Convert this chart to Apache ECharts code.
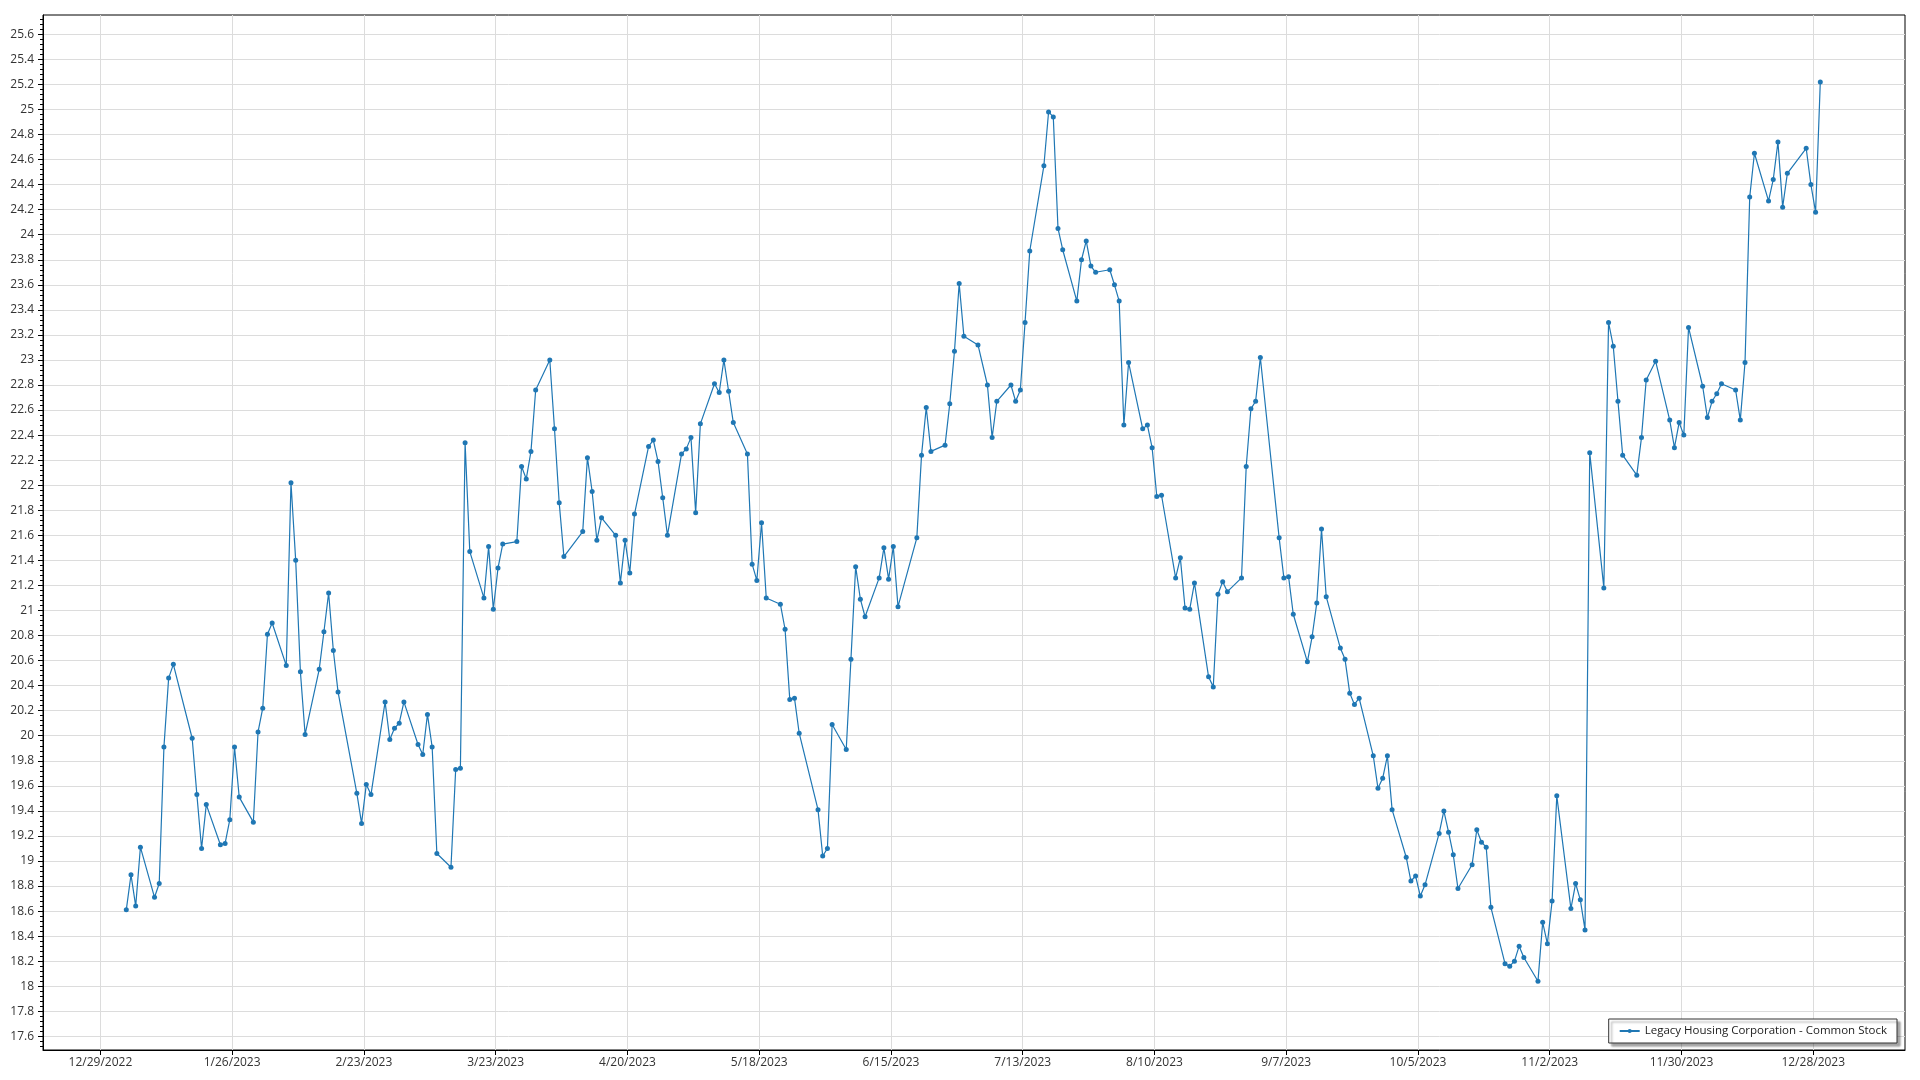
<!DOCTYPE html>
<html>
<head>
<meta charset="utf-8">
<script src="https://cdn.jsdelivr.net/npm/echarts@6/dist/echarts.min.js"></script>
<style>
html,body{margin:0;padding:0;background:#fff;}
#chart{width:1920px;height:1080px;}
</style>
</head>
<body>
<div id="chart"></div>
<script>
// Trading days (day of month) and closing prices, 2023, by month
const janDays = [3,4,5,6,9,10,11,12,13,17,18,19,20,23,24,25,26,27,30,31];
const janClose = [18.61,18.89,18.64,19.11,18.71,18.82,19.91,20.46,20.57,19.98,19.53,19.10,19.45,19.13,19.14,19.33,19.91,19.51,19.31,20.03];
const febDays = [1,2,3,6,7,8,9,10,13,14,15,16,17,21,22,23,24,27,28];
const febClose = [20.22,20.81,20.90,20.56,22.02,21.40,20.51,20.01,20.53,20.83,21.14,20.68,20.35,19.54,19.30,19.61,19.53,20.27,19.97];
const marDays = [1,2,3,6,7,8,9,10,13,14,15,16,17,20,21,22,23,24,27,28,29,30,31];
const marClose = [20.06,20.10,20.27,19.93,19.85,20.17,19.91,19.06,18.95,19.73,19.74,22.34,21.47,21.10,21.51,21.01,21.34,21.53,21.55,22.15,22.05,22.27,22.76];
const aprDays = [3,4,5,6,10,11,12,13,14,17,18,19,20,21,24,25,26,27,28];
const aprClose = [23.00,22.45,21.86,21.43,21.63,22.22,21.95,21.56,21.74,21.60,21.22,21.56,21.30,21.77,22.31,22.36,22.19,21.90,21.60];
const mayDays = [1,2,3,4,5,8,9,10,11,12,15,16,17,18,19,22,23,24,25,26,30,31];
const mayClose = [22.25,22.29,22.38,21.78,22.49,22.81,22.74,23.00,22.75,22.50,22.25,21.37,21.24,21.70,21.10,21.05,20.85,20.29,20.30,20.02,19.41,19.04];
const junDays = [1,2,5,6,7,8,9,12,13,14,15,16,20,21,22,23,26,27,28,29,30];
const junClose = [19.10,20.09,19.89,20.61,21.35,21.09,20.95,21.26,21.50,21.25,21.51,21.03,21.58,22.24,22.62,22.27,22.32,22.65,23.07,23.61,23.19];
const julDays = [3,5,6,7,10,11,12,13,14,17,18,19,20,21,24,25,26,27,28,31];
const julClose = [23.12,22.80,22.38,22.67,22.80,22.67,22.76,23.30,23.87,24.55,24.98,24.94,24.05,23.88,23.47,23.80,23.95,23.75,23.70,23.72];
const augDays = [1,2,3,4,7,8,9,10,11,14,15,16,17,18,21,22,23,24,25,28,29,30,31];
const augClose = [23.60,23.47,22.48,22.98,22.45,22.48,22.30,21.91,21.92,21.26,21.42,21.02,21.01,21.22,20.47,20.39,21.13,21.23,21.15,21.26,22.15,22.61,22.67];
const sepDays = [1,5,6,7,8,11,12,13,14,15,18,19,20,21,22,25,26,27,28,29];
const sepClose = [23.02,21.58,21.26,21.27,20.97,20.59,20.79,21.06,21.65,21.11,20.70,20.61,20.34,20.25,20.30,19.84,19.58,19.66,19.84,19.41];
const octDays = [2,3,4,5,6,9,10,11,12,13,16,17,18,19,20,23,24,25,26,27,30,31];
const octClose = [19.03,18.84,18.88,18.72,18.81,19.22,19.40,19.23,19.05,18.78,18.97,19.25,19.15,19.11,18.63,18.18,18.16,18.20,18.32,18.23,18.04,18.51];
const novDays = [1,2,3,6,7,8,9,10,13,14,15,16,17,20,21,22,24,27,28,29,30];
const novClose = [18.34,18.68,19.52,18.62,18.82,18.69,18.45,22.26,21.18,23.30,23.11,22.67,22.24,22.08,22.38,22.84,22.99,22.52,22.30,22.50,22.40];
const decDays = [1,4,5,6,7,8,11,12,13,14,15,18,19,20,21,22,26,27,28,29];
const decClose = [23.26,22.79,22.54,22.67,22.73,22.81,22.76,22.52,22.98,24.30,24.65,24.27,24.44,24.74,24.22,24.49,24.69,24.40,24.18,25.22];

// Tick labels
const xTickLabels = ['12/29/2022','1/26/2023','2/23/2023','3/23/2023','4/20/2023','5/18/2023','6/15/2023','7/13/2023','8/10/2023','9/7/2023','10/5/2023','11/2/2023','11/30/2023','12/28/2023'];
const yTickLabels = ['17.6','17.8','18','18.2','18.4','18.6','18.8','19','19.2','19.4','19.6','19.8','20','20.2','20.4','20.6','20.8','21','21.2','21.4','21.6','21.8','22','22.2','22.4','22.6','22.8','23','23.2','23.4','23.6','23.8','24','24.2','24.4','24.6','24.8','25','25.2','25.4','25.6'];

const seriesName = 'Legacy Housing Corporation - Common Stock';

const DAY = 86400000;
const ORIGIN = Date.UTC(2022, 11, 29);
function parseMDY(s){ const p = s.split('/').map(Number); return Date.UTC(p[2], p[0]-1, p[1]); }
function toDay(ts){ return (ts - ORIGIN) / DAY; }

const monthDays = [janDays,febDays,marDays,aprDays,mayDays,junDays,julDays,augDays,sepDays,octDays,novDays,decDays];
const monthClose = [janClose,febClose,marClose,aprClose,mayClose,junClose,julClose,augClose,sepClose,octClose,novClose,decClose];
const data = [];
monthDays.forEach((days, m) => {
  days.forEach((d, i) => {
    // session plotted at mid-day
    data.push([toDay(Date.UTC(2023, m, d)) + 0.5, monthClose[m][i]]);
  });
});

const xTickValues = xTickLabels.map(s => toDay(parseMDY(s)));
const xLabelMap = {};
xTickValues.forEach((v, i) => { xLabelMap[v] = xTickLabels[i]; });
const yTickValues = yTickLabels.map(Number);
const yMinor = [];
for (let k = 0; k <= 208; k++) { const v = Math.round((17.48 + k*0.04)*100)/100; if (v > 17.49 && v < 25.754) yMinor.push(v); }

const font = '"Open Sans", "Noto Sans", sans-serif';
const chart = echarts.init(document.getElementById('chart'));
chart.setOption({
  animation: false,
  backgroundColor: '#fff',
  grid: { left: 43, right: 15, top: 15, bottom: 30, show: true, borderColor: '#000', borderWidth: 1, backgroundColor: 'transparent' },
  legend: {
    right: 23, bottom: 37,
    backgroundColor: '#fff', borderColor: '#333', borderWidth: 1,
    padding: [6, 10], itemWidth: 20, itemHeight: 5, itemGap: 5,
    shadowColor: 'rgba(0,0,0,0.35)', shadowBlur: 2, shadowOffsetX: 3, shadowOffsetY: 3,
    textStyle: { fontFamily: font, fontSize: 11.5, color: '#222', padding: [0,0,0,0] },
    data: [seriesName]
  },
  xAxis: {
    type: 'value', min: -12.2, max: 383.5,
    axisLine: { show: true, onZero: false, lineStyle: { color: '#000', width: 1 } },
    axisTick: { show: true, length: 5, lineStyle: { color: '#000' }, customValues: xTickValues },
    axisLabel: { show: true, margin: 7, fontFamily: font, fontSize: 12, color: '#333',
      customValues: xTickValues, formatter: v => xLabelMap[v] || '' },
    splitLine: { show: true, lineStyle: { color: '#dcdcdc', width: 1 } }
  },
  yAxis: [{
    type: 'value', min: 17.491, max: 25.754,
    axisLine: { show: true, onZero: false, lineStyle: { color: '#000', width: 1 } },
    axisTick: { show: true, length: 5, lineStyle: { color: '#000' }, customValues: yTickValues },
    axisLabel: { show: true, margin: 9, fontFamily: font, fontSize: 12, color: '#333',
      customValues: yTickValues, formatter: v => yTickLabels[yTickValues.findIndex(t => Math.abs(t - v) < 1e-6)] || '' },
    splitLine: { show: true, lineStyle: { color: '#dcdcdc', width: 1 } }
  }, {
    type: 'value', min: 17.491, max: 25.754, position: 'left', offset: 0,
    axisLine: { show: false, onZero: false },
    axisTick: { show: true, length: 3, lineStyle: { color: '#000' }, customValues: yMinor },
    axisLabel: { show: false },
    splitLine: { show: false }
  }],
  series: [{
    name: seriesName,
    type: 'line',
    data: data,
    symbol: 'circle',
    symbolSize: 5,
    showSymbol: true,
    showAllSymbol: true,
    itemStyle: { color: '#1f77b4' },
    lineStyle: { color: '#1f77b4', width: 1.2 },
    emphasis: { disabled: true }
  }]
});
</script>
</body>
</html>
